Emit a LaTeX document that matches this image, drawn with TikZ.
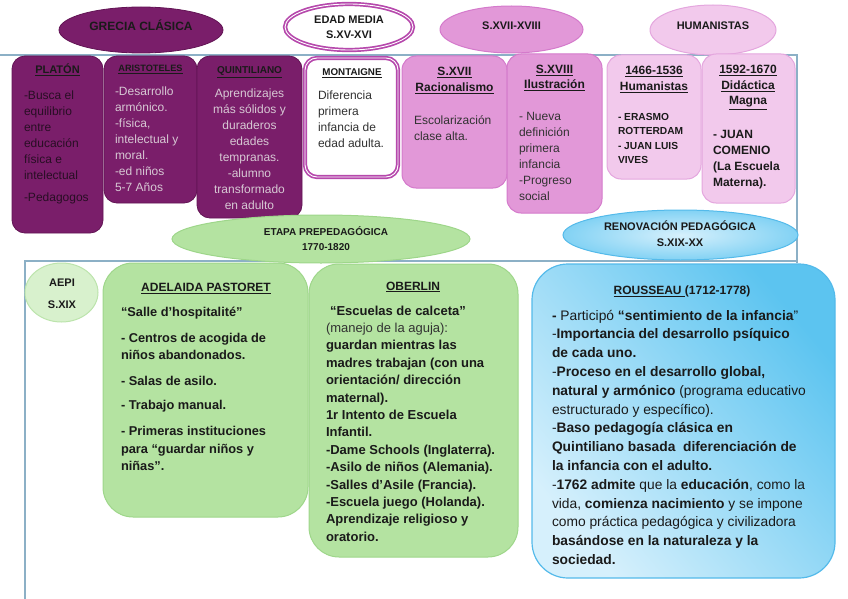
\documentclass[tikz,border=0pt]{standalone}
\usepackage{fontspec}
\setmainfont{Liberation Sans}
\usetikzlibrary{shapes.geometric}
\definecolor{dpur}{RGB}{122,30,106}
\definecolor{dpurE}{RGB}{98,20,84}
\definecolor{mauve}{RGB}{182,72,172}
\definecolor{mpink}{RGB}{226,152,216}
\definecolor{mpinkE}{RGB}{212,122,203}
\definecolor{lpink}{RGB}{242,201,236}
\definecolor{lpinkE}{RGB}{228,166,222}
\definecolor{gfill}{RGB}{180,227,161}
\definecolor{gedge}{RGB}{158,214,138}
\definecolor{lgfill}{RGB}{216,241,205}
\definecolor{lgedge}{RGB}{188,228,172}
\definecolor{bdark}{RGB}{92,196,240}
\definecolor{bmid}{RGB}{130,210,244}
\definecolor{blight}{RGB}{214,240,252}
\definecolor{bedge}{RGB}{84,186,234}
\definecolor{frame}{RGB}{140,176,198}
\definecolor{txt}{RGB}{26,26,26}
\definecolor{gtxt}{RGB}{50,50,50}
\definecolor{ltxt}{RGB}{215,200,212}
\definecolor{ptxt}{RGB}{40,14,36}
\newcommand{\myfs}[2]{\fontsize{#1}{#2}\selectfont}
\newcommand{\mkbox}[6]{\node[#1, minimum width={#4-#2}, minimum height={#5-#3}] (#6) at ({(#2+#4)/2},{(#3+#5)/2}) {};}
\begin{document}
\begin{tikzpicture}[x=1pt,y=-1pt,
  shp/.style={inner sep=0pt, outer sep=0pt},
  darkbox/.style={shp, rectangle, rounded corners=13pt, fill=dpur, draw=dpurE, line width=0.8pt},
  montbox/.style={shp, rectangle, rounded corners=12pt, fill=white, draw=mauve, line width=1.7pt, double=white, double distance=0.9pt},
  mpbox/.style={shp, rectangle, rounded corners=14pt, fill=mpink, draw=mpinkE, line width=1pt},
  lpbox/.style={shp, rectangle, rounded corners=14pt, fill=lpink, draw=lpinkE, line width=1pt},
  gbox/.style={shp, rectangle, rounded corners=30pt, fill=gfill, draw=gedge, line width=1pt},
  rousbox/.style={shp, rectangle, rounded corners=36pt, draw=bedge, line width=1.2pt, top color=bdark, bottom color=blight, shading angle=-50},
  ell/.style={shp, ellipse},
  frameline/.style={draw=frame, line width=1.2pt},
  tx/.style={inner sep=0pt, outer sep=0pt, text=txt},
  hd/.style={tx, anchor=base, align=center},
  bl/.style={tx, anchor=base west, align=left},
]
\useasboundingbox (0,0) rectangle (848,599);
% frame
\draw[frameline] (0,55) -- (797,55) -- (797,263);
\draw[frameline] (25,599) -- (25,261) -- (797,261);

% top ellipses
\node[ell, fill=dpur, draw=dpurE, line width=0.8pt, minimum width=164pt, minimum height=46pt] (grecia) at (141,30) {};
\node[ell, fill=white, draw=mauve, line width=1.7pt, double=white, double distance=0.9pt, minimum width=128pt, minimum height=46pt] (edad) at (349,27) {};
\node[ell, fill=mpink, draw=mpinkE, line width=1pt, minimum width=143pt, minimum height=47pt] (sxviixviii) at (511.5,29.5) {};
\node[ell, fill=lpink, draw=lpinkE, line width=1pt, minimum width=126pt, minimum height=50pt] (humell) at (713,30) {};

\node[hd, font={\myfs{12}{14}\bfseries}] (greciaT) at (141,31) {GRECIA CLÁSICA};
\node[hd, font={\myfs{11}{15}\bfseries}] (edadT) at (349,39) {EDAD MEDIA\\S.XV-XVI};
\node[hd, font={\myfs{11}{14}\bfseries}] (sxviixviiiT) at (511.5,30) {S.XVII-XVIII};
\node[hd, font={\myfs{11}{14}\bfseries}] (humellT) at (713,30) {HUMANISTAS};

% top boxes
\mkbox{darkbox}{12}{56}{103}{233}{platon}
\mkbox{darkbox}{104}{56}{197}{203}{arist}
\mkbox{darkbox}{197}{56}{302}{218}{quint}
\mkbox{montbox}{305}{58}{398}{177}{mont}
\mkbox{mpbox}{402}{56}{507}{188}{sxvii}
\mkbox{mpbox}{507}{54}{602}{213}{sxviii}
\mkbox{lpbox}{607}{55}{701}{179}{hum}
\mkbox{lpbox}{702}{54}{795}{203}{comen}

% Platon
\node[hd, font={\myfs{11}{13}\bfseries}] (platonH) at (57.5,74) {\underline{PLATÓN}};
\node[bl, text=ptxt, font={\myfs{12}{16}}] (platonT) at (24,179) {-Busca el\\equilibrio\\entre\\educación\\física e\\intelectual};
\node[bl, text=ptxt, font={\myfs{12}{16}}] (platonT2) at (24,201) {-Pedagogos};
% Aristoteles
\node[hd, font={\myfs{9.2}{12}\bfseries}] (aristH) at (150.5,71.5) {\underline{ARISTOTELES}};
\node[bl, text=ltxt, font={\myfs{12}{16}}] (aristT) at (115,191) {-Desarrollo\\armónico.\\-física,\\intelectual y\\moral.\\-ed niños\\5-7 Años};
% Quintiliano
\node[hd, font={\myfs{10}{12}\bfseries}] (quintH) at (249.5,74) {\underline{QUINTILIANO}};
\node[hd, text=ltxt, font={\myfs{12}{16}}] (quintT) at (249.5,209) {Aprendizajes\\más sólidos y\\duraderos\\edades\\tempranas.\\-alumno\\transformado\\en adulto};
% Montaigne
\node[hd, font={\myfs{9.8}{12}\bfseries}] (montH) at (352,76) {\underline{MONTAIGNE}};
\node[bl, text=gtxt, font={\myfs{12}{15.8}}] (montT) at (318,147.4) {Diferencia\\primera\\infancia de\\edad adulta.};
% S.XVII
\node[hd, font={\myfs{12}{16}\bfseries}] (sxviiH) at (454.5,92) {\underline{S.XVII}\\\underline{Racionalismo}};
\node[bl, text=gtxt, font={\myfs{12}{16}}] (sxviiT) at (414,140) {Escolarización\\clase alta.};
% S.XVIII
\node[hd, font={\myfs{12}{14.5}\bfseries}] (sxviiiH) at (554.5,88.5) {\underline{S.XVIII}\\\underline{Ilustración}};
\node[bl, text=gtxt, font={\myfs{12}{16}}] (sxviiiT) at (519,200.3) {- Nueva\\definición\\primera\\infancia\\-Progreso\\social};
% Humanistas
\node[hd, font={\myfs{12}{16}\bfseries}] (humH) at (654,91) {\underline{1466-1536}\\\underline{Humanistas}};
\node[bl, font={\myfs{10.2}{14.2}\bfseries}] (humT) at (618,163.3) {- ERASMO\\ROTTERDAM\\- JUAN LUIS\\VIVES};
% Comenio
\node[hd, font={\myfs{12}{15.5}\bfseries}] (comenH) at (748,105) {\underline{1592-1670}\\\underline{Didáctica}\\\underline{Magna}};
\node[bl, font={\myfs{12}{16}\bfseries}] (comenT) at (713,186.3) {- JUAN\\COMENIO\\(La Escuela\\Materna).};

% middle ellipses
\node[ell, fill=gfill, draw=gedge, line width=1pt, minimum width=298pt, minimum height=48pt] (etapa) at (321,239) {};
\node[hd, font={\myfs{10}{15}\bfseries}] (etapaT) at (326,250) {ETAPA PREPEDAGÓGICA\\1770-1820};
\node[ell, draw=bedge, line width=1pt, inner color=blight, outer color=bmid, minimum width=235pt, minimum height=50pt] (renov) at (680.5,235) {};
\node[hd, font={\myfs{11}{16}\bfseries}] (renovT) at (680,246) {RENOVACIÓN PEDAGÓGICA\\S.XIX-XX};

% lower section
\node[ell, fill=lgfill, draw=lgedge, line width=1pt, minimum width=73pt, minimum height=59pt] (aepi) at (61.5,292.5) {};
\node[hd, font={\myfs{11}{21.3}\bfseries}] (aepiT) at (62,308) {AEPI\\S.XIX};

\mkbox{gbox}{103}{263}{308}{517}{adel}
\mkbox{gbox}{309}{264}{518}{557}{ober}
\mkbox{rousbox}{532}{264}{835}{578}{rous}

% Adelaida
\node[hd, font={\myfs{12}{14}\bfseries}] (adelH) at (206,291.7) {\underline{ADELAIDA PASTORET}};
\node[bl, font={\myfs{12.8}{16.6}\bfseries}] (adel1) at (121,316.7) {“Salle d’hospitalité”};
\node[bl, font={\myfs{12.8}{16.6}\bfseries}] (adel2) at (121,359.3) {- Centros de acogida de\\niños abandonados.};
\node[bl, font={\myfs{12.8}{16.6}\bfseries}] (adel3) at (121,385) {- Salas de asilo.};
\node[bl, font={\myfs{12.8}{16.6}\bfseries}] (adel4) at (121,409.3) {- Trabajo manual.};
\node[bl, font={\myfs{12.8}{17.5}\bfseries}] (adel5) at (121,470.7) {- Primeras instituciones\\para “guardar niños y\\niñas”.};

% Oberlin
\node[hd, font={\myfs{12}{14}\bfseries}] (oberH) at (413,290) {\underline{OBERLIN}};
\node[bl, font={\myfs{13}{17.4}}] (oberT) at (326,541.2) {%
\hspace*{4pt}\textbf{“Escuelas de calceta”}\\
{\color{gtxt}(manejo de la aguja):}\\
\textbf{guardan mientras las}\\
\textbf{madres trabajan (con una}\\
\textbf{orientación/ dirección}\\
\textbf{maternal).}\\
\textbf{1r Intento de Escuela}\\
\textbf{Infantil.}\\
\textbf{-Dame Schools (Inglaterra).}\\
\textbf{-Asilo de niños (Alemania).}\\
\textbf{-Salles d’Asile (Francia).}\\
\textbf{-Escuela juego (Holanda).}\\
\textbf{Aprendizaje religioso y}\\
\textbf{oratorio.}};

% Rousseau
\node[hd, font={\myfs{12}{14}\bfseries}] (rousH) at (682,294.3) {\underline{ROUSSEAU }(1712-1778)};
\node[bl, font={\myfs{13.8}{18.8}}] (rousT) at (552,564.4) {%
\textbf{-} Participó \textbf{“sentimiento de la infancia}”\\
-\textbf{Importancia del desarrollo psíquico}\\
\textbf{de cada uno.}\\
-\textbf{Proceso en el desarrollo global,}\\
\textbf{natural y armónico} (programa educativo\\
estructurado y específico).\\
-\textbf{Baso pedagogía clásica en}\\
\textbf{Quintiliano basada \ diferenciación de}\\
\textbf{la infancia con el adulto.}\\
-\textbf{1762 admite} que la \textbf{educación}, como la\\
vida, \textbf{comienza nacimiento} y se impone\\
como práctica pedagógica y civilizadora\\
\textbf{basándose en la naturaleza y la}\\
\textbf{sociedad.}};
\end{tikzpicture}
\end{document}
